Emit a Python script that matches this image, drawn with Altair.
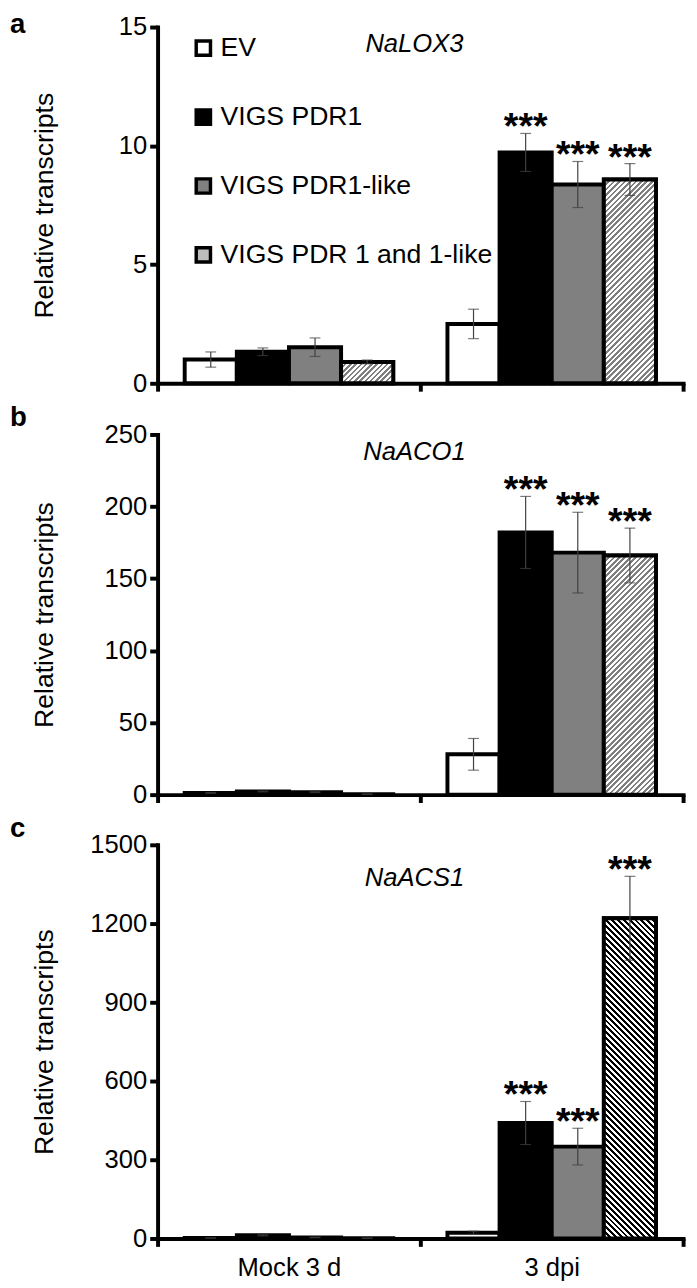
import altair as alt
import pandas as pd

# ---------------- data ----------------
groups = ["Mock 3 d", "3 dpi"]
series = ["EV", "VIGS PDR1", "VIGS PDR1-like", "VIGS PDR 1 and 1-like"]
series_fill = ["#ffffff", "#000000", "#808080", "#bdbdbd"]

# panel a: NaLOX3  (order: Mock x4 series, then 3 dpi x4 series)
lox3_mean = [1.0, 1.33, 1.52, 0.9, 2.5, 9.72, 8.37, 8.58]
lox3_err = [0.32, 0.16, 0.39, 0.08, 0.62, 0.8, 0.97, 0.67]
lox3_stars = ["", "", "", "", "", "***", "***", "***"]
lox3_ticks = [0, 5, 10, 15]

# panel b: NaACO1
aco1_mean = [1.2, 2.2, 1.7, 0.3, 28, 182, 168, 166]
aco1_err = [0.3, 0.3, 0.3, 0.1, 11, 25, 28, 19]
aco1_stars = ["", "", "", "", "", "***", "***", "***"]
aco1_ticks = [0, 50, 100, 150, 200, 250]

# panel c: NaACS1
acs1_mean = [2, 12, 4, 1, 22, 440, 350, 1220]
acs1_err = [0.5, 2, 1, 0.3, 6, 82, 70, 160]
acs1_stars = ["", "", "", "", "", "***", "***", "***"]
acs1_ticks = [0, 300, 600, 900, 1200, 1500]

FONT = "Liberation Sans"
PLOT_W = 534
OFFSET_PAD = 0.52
BAR_W = PLOT_W / len(groups) / (len(series) + 2 * OFFSET_PAD)


def hatch_fill(w, h, period, dark, light, rising):
    """Striped fill built from a linear gradient with hard stops."""
    n = max(1, int(round((w + h) / period)))
    L = (w * w + h * h) / (w + h)
    if rising:
        x1, y1, x2, y2 = 0, 0, w / L, h / L
    else:
        x1, y1, x2, y2 = 0, 1, w / L, 1 - h / L
    stops = []
    for k in range(n):
        a, m, b = k / n, (k + 0.5) / n, (k + 1) / n
        stops += [{"offset": a, "color": dark}, {"offset": m, "color": dark},
                  {"offset": m, "color": light}, {"offset": b, "color": light}]
    return {"gradient": "linear", "x1": x1, "y1": y1, "x2": x2, "y2": y2, "stops": stops}


def panel(mean, err, stars, ticks, plot_h, gene, gene_y, letter, letter_y,
          hatch_dark, rising, period, legend, xlabels):
    ymax = ticks[-1]
    df = pd.DataFrame({
        "group": [g for g in groups for _ in series],
        "series": list(series) * len(groups),
        "mean": mean, "err": err, "star": stars,
    })
    df["lo"] = df["mean"] - df["err"]
    df["hi"] = df["mean"] + df["err"]

    x = alt.X("group:N", sort=groups, title=None,
              scale=alt.Scale(paddingInner=0, paddingOuter=0),
              axis=alt.Axis(labels=xlabels, tickBand="extent", labelAngle=0,
                            labelFontSize=26, labelPadding=9))
    xo = alt.XOffset("series:N", sort=series,
                     scale=alt.Scale(paddingInner=0, paddingOuter=OFFSET_PAD))
    yscale = alt.Scale(domain=[0, ymax], nice=False)
    yaxis = alt.Axis(values=ticks, format="d", title="Relative transcripts",
                     titleX=-115, titleY=plot_h / 2, titleAngle=270,
                     titleAlign="center", titleBaseline="middle", labelPadding=3)

    def Y(field):
        return alt.Y(field, scale=yscale, axis=yaxis)

    base = alt.Chart(df)
    bars = base.mark_bar(stroke="black", strokeWidth=4).encode(
        x=x, xOffset=xo, y=Y("mean:Q"),
        fill=alt.Fill("series:N", sort=series,
                      scale=alt.Scale(domain=series, range=series_fill),
                      legend=legend))

    layers = [bars]
    for gi, g in enumerate(groups):
        v = mean[gi * len(series) + 3]
        h = v / ymax * plot_h
        if h < 3:
            continue
        layers.append(
            base.transform_filter((alt.datum.group == g) & (alt.datum.series == series[3]))
            .mark_bar(stroke="black", strokeWidth=4,
                      fill=hatch_fill(BAR_W, h, period, hatch_dark, "#ffffff", rising))
            .encode(x=x, xOffset=xo, y=Y("mean:Q")))

    rules = base.mark_rule(color="#404040", strokeWidth=1.2).encode(
        x=x, xOffset=xo, y=Y("lo:Q"), y2="hi:Q")
    cap_hi = base.mark_tick(color="#404040", thickness=1.2, size=11).encode(
        x=x, xOffset=xo, y=Y("hi:Q"))
    cap_lo = base.mark_tick(color="#404040", thickness=1.2, size=11).encode(
        x=x, xOffset=xo, y=Y("lo:Q"))
    star_txt = base.transform_filter(alt.datum.star != "").mark_text(
        fontSize=38, fontWeight="bold", baseline="alphabetic", dy=6, font=FONT,
        color="black").encode(x=x, xOffset=xo, y=Y("hi:Q"), text="star:N")

    gene_txt = alt.Chart(pd.DataFrame({"t": [gene]})).mark_text(
        fontSize=26, fontStyle="italic", font=FONT, baseline="middle",
        align="center", color="black").encode(
        x=alt.value(261), y=alt.value(gene_y), text="t:N")
    letter_txt = alt.Chart(pd.DataFrame({"t": [letter]})).mark_text(
        fontSize=28, fontWeight="bold", font=FONT, baseline="middle",
        align="left", color="black").encode(
        x=alt.value(-150), y=alt.value(letter_y), text="t:N")

    layers += [rules, cap_hi, cap_lo, star_txt, gene_txt, letter_txt]
    return alt.layer(*layers).properties(width=PLOT_W, height=plot_h)


legend_a = alt.Legend(orient="none", legendX=33, legendY=8, title=None,
                      symbolType="square", symbolSize=210,
                      symbolStrokeColor="black", symbolStrokeWidth=3.5,
                      labelFont=FONT, labelFontSize=27, labelColor="black",
                      labelLimit=0, rowPadding=41, labelOffset=4,
                      direction="vertical")

pa = panel(lox3_mean, lox3_err, lox3_stars, lox3_ticks, 362, "NaLOX3", 17, "a", -2,
           "#7f7f7f", True, 5.5, legend_a, False)
pb = panel(aco1_mean, aco1_err, aco1_stars, aco1_ticks, 366, "NaACO1", 18, "b", -17,
           "#7f7f7f", True, 5.5, None, False)
pc = panel(acs1_mean, acs1_err, acs1_stars, acs1_ticks, 400, "NaACS1", 34, "c", -16,
           "#000000", False, 6.0, None, True)

chart = (
    alt.vconcat(pa, pb, pc, spacing=8)
    .resolve_scale(fill="independent")
    .resolve_legend(fill="independent")
    .properties(padding={"left": 2, "top": -7, "right": 4, "bottom": 0})
    .configure_view(stroke=None)
    .configure_axis(grid=False, domainColor="black", domainWidth=4, domainCap="square",
                    tickColor="black", tickWidth=4, tickSize=8,
                    labelFont=FONT, labelFontSize=26, labelColor="black",
                    titleFont=FONT, titleFontSize=27, titleFontWeight="normal",
                    titleColor="black")
)

chart.save("out.html", embed_options={"renderer": "svg", "actions": False})
